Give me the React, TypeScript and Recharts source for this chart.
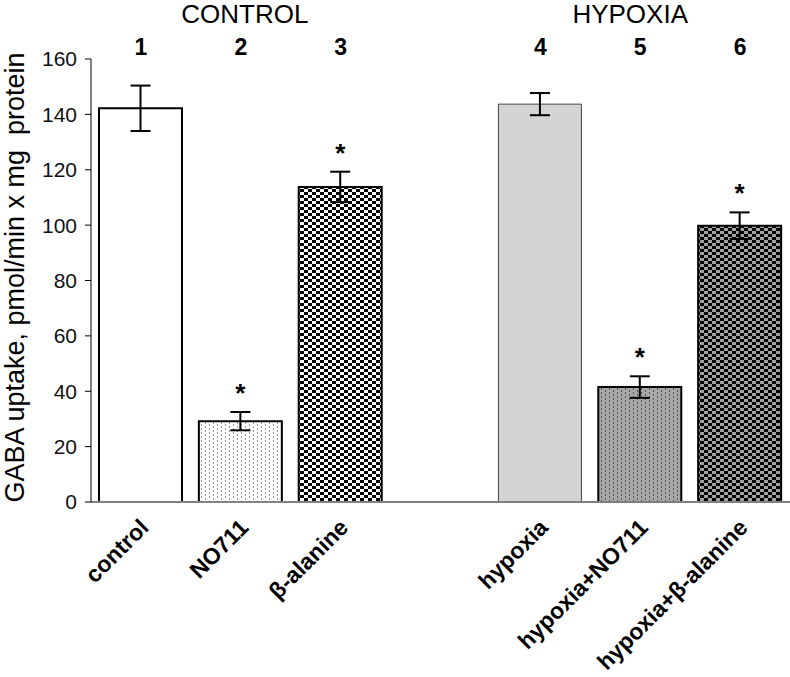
import { BarChart, Bar, XAxis, YAxis, ErrorBar, Cell, LabelList } from 'recharts';

const categories = ['control', 'NO711', 'β-alanine', '', 'hypoxia', 'hypoxia+NO711', 'hypoxia+β-alanine'];
const groupNums = ['1', '2', '3', '', '4', '5', '6'];
const groupTitles = ['', 'CONTROL', '', '', '', 'HYPOXIA', ''];
const uptake = [142.2, 29.2, 113.8, null, 143.7, 41.5, 99.8];
const sem = [8.2, 3.3, 5.5, null, 4, 3.9, 4.8];
const significant = ['', '*', '*', '', '', '*', '*'];
const yTicks = [0, 20, 40, 60, 80, 100, 120, 140, 160];

const FILLS = ['#ffffff', 'url(#dotsLight)', 'url(#checkWhite)', 'none', '#d4d4d4', 'url(#dotsGray)', 'url(#checkGray)'];
const STROKES = ['#000', '#000', '#000', '#000', '#444', '#000', '#000'];
const STROKE_W = [2, 2, 2, 2, 1, 2, 2];
// group titles sit a little off the bar centres in the original
const TITLE_DX = [0, 4, 0, 0, 0, -10, 0];

const FONT = '"Liberation Sans", Arial, sans-serif';

const data = categories.map((name, i) => ({
  name,
  num: groupNums[i] || ' '.repeat(i + 1),
  value: uptake[i],
  err: sem[i],
}));

function BottomTick({ x, payload }: any) {
  if (!payload.value) return null;
  const ax = x + 9;
  const ay = 529;
  return (
    <text x={ax} y={ay} transform={`rotate(-45, ${ax}, ${ay})`} textAnchor="end"
      fontFamily={FONT} fontWeight="bold" fontSize={23} fill="#000">
      {payload.value}
    </text>
  );
}

function TopTick({ x, index }: any) {
  return (
    <g>
      {groupTitles[index] ? (
        <text x={x + TITLE_DX[index]} y={23} textAnchor="middle" fontFamily={FONT} fontSize={26} fill="#000">
          {groupTitles[index]}
        </text>
      ) : null}
      <text x={x} y={55} textAnchor="middle" fontFamily={FONT} fontWeight="bold" fontSize={23} fill="#000">
        {groupNums[index]}
      </text>
    </g>
  );
}

// label value is the category name, so look up the row from it
function Star(props: any) {
  const { x, y, width, height, value } = props;
  const i = categories.indexOf(value);
  const v = uptake[i];
  if (i < 0 || !significant[i] || v == null) return null;
  const pxPerUnit = height / v;
  const top = y - (sem[i] ?? 0) * pxPerUnit;
  return (
    <text x={x + width / 2} y={top - 10} textAnchor="middle" fontFamily={FONT} fontWeight="bold" fontSize={26} fill="#000">
      {significant[i]}
    </text>
  );
}

export default function App() {
  return (
    <div style={{ position: 'absolute', left: 0, top: 0, background: '#fff' }}>
      <BarChart width={790} height={677} data={data} margin={{ top: 0, right: 0, bottom: 0, left: 0 }} barSize={83}>
        <defs>
          <pattern id="dotsLight" width="8" height="4" patternUnits="userSpaceOnUse">
            <rect width="8" height="4" fill="#fff" />
            <rect x="1" y="0" width="1" height="2" fill="#9a9a9a" />
            <rect x="5" y="2" width="1" height="2" fill="#9a9a9a" />
          </pattern>
          <pattern id="dotsGray" width="8" height="4" patternUnits="userSpaceOnUse">
            <rect width="8" height="4" fill="#a8a8a8" />
            <rect x="1" y="0" width="1" height="2" fill="#555" />
            <rect x="5" y="2" width="1" height="2" fill="#555" />
          </pattern>
          <pattern id="checkWhite" width="8" height="6" patternUnits="userSpaceOnUse">
            <rect width="8" height="6" fill="#fff" />
            <rect x="0" y="0" width="4" height="3" fill="#000" />
            <rect x="4" y="3" width="4" height="3" fill="#000" />
          </pattern>
          <pattern id="checkGray" width="8" height="6" patternUnits="userSpaceOnUse">
            <rect width="8" height="6" fill="#a0a0a0" />
            <rect x="0" y="0" width="4" height="3" fill="#000" />
            <rect x="4" y="3" width="4" height="3" fill="#000" />
          </pattern>
        </defs>
        <XAxis dataKey="name" height={175} tick={<BottomTick />} tickLine={false} interval={0}
          axisLine={{ stroke: '#808080', strokeWidth: 2 }} />
        <XAxis xAxisId="top" orientation="top" dataKey="num" height={59} tick={<TopTick />}
          tickLine={false} axisLine={false} interval={0} />
        <YAxis width={91} domain={[0, 160]} ticks={yTicks} interval={0} tickSize={6} tickMargin={8}
          axisLine={{ stroke: '#000' }} tickLine={{ stroke: '#000' }}
          tick={{ fontFamily: FONT, fontSize: 21, fill: '#111' }}
          label={{
            content: ({ viewBox }: any) => {
              const cy = viewBox.y + viewBox.height / 2 - 3;
              return (
                <text x={15} y={cy} transform={`rotate(-90, 15, ${cy})`} textAnchor="middle" dominantBaseline="central"
                  fontFamily={FONT} fontSize={27} fill="#000" style={{ whiteSpace: 'pre' }}>
                  GABA uptake, pmol/min x mg  protein
                </text>
              );
            },
          }} />
        <Bar dataKey="value" isAnimationActive={false}>
          {data.map((_, i) => (
            <Cell key={i} fill={FILLS[i]} stroke={STROKES[i]} strokeWidth={STROKE_W[i]} />
          ))}
          <ErrorBar dataKey="err" width={10} strokeWidth={2} stroke="#000" isAnimationActive={false} />
          <LabelList dataKey="name" content={<Star />} />
        </Bar>
      </BarChart>
    </div>
  );
}
